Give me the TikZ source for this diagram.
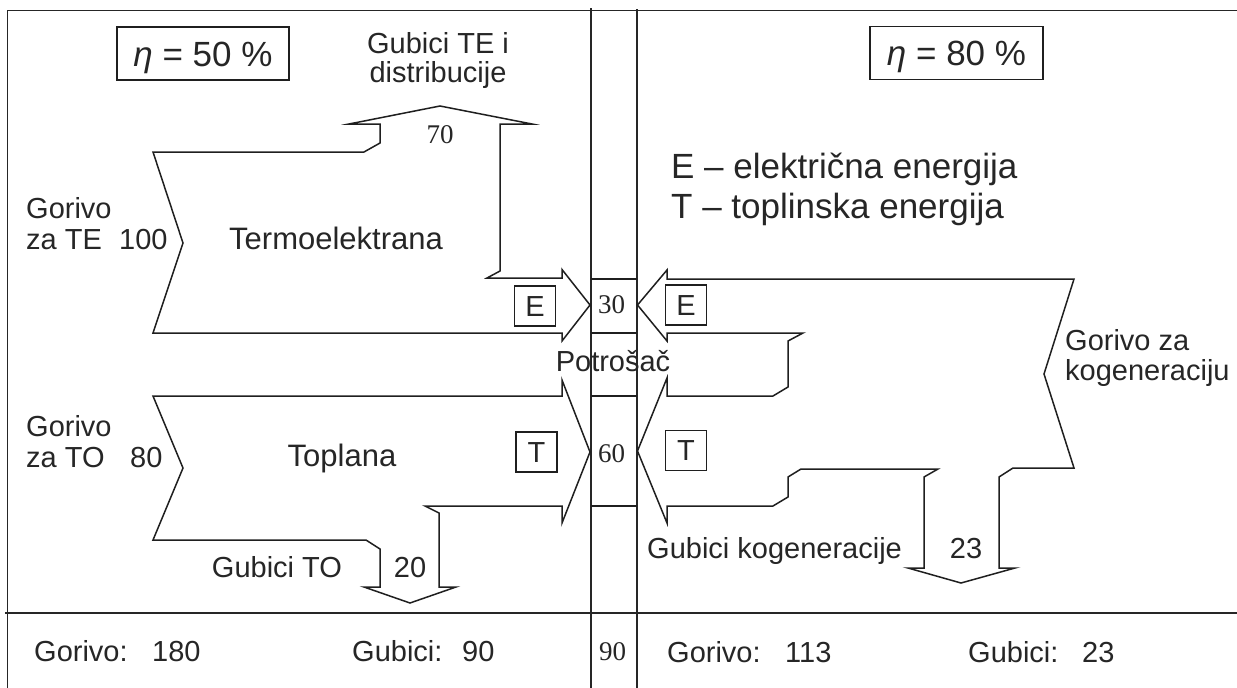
\documentclass[tikz,border=0pt]{standalone}
\usepackage{fontspec}
\setmainfont{Liberation Sans}
\newfontfamily\serifnum{Liberation Serif}
\begin{document}
\begin{tikzpicture}[x=1pt,y=-1pt,
  flow/.style={draw=black!88, line width=1.5pt, line join=miter, miter limit=20},
  frameline/.style={draw=black!85, line width=1.9pt},
  lbl/.style={inner sep=0pt, text=black!85, font=\fontsize{29}{33}\selectfont, text height=20.8pt, text depth=0pt},
  big/.style={inner sep=0pt, text=black!85, font=\fontsize{31}{35}\selectfont, text height=22.2pt, text depth=0pt},
  legend/.style={inner sep=0pt, text=black!85, font=\fontsize{35}{40}\selectfont, text height=25pt, text depth=0pt},
  etabox/.style={draw=black!88, line width=1.6pt, inner sep=0pt, text=black!85, font=\fontsize{35}{40}\selectfont, text height=25pt, text depth=0pt},
  num/.style={inner sep=0pt, text=black!85, font=\serifnum\fontsize{27}{30}\selectfont, text height=18.3pt, text depth=0pt},
  letterbox/.style={draw=black!88, line width=1.5pt, minimum width=41pt, minimum height=40pt, inner sep=0pt, text=black!85, font=\fontsize{29}{33}\selectfont, text height=20.8pt, text depth=0pt}
]
\useasboundingbox (0,0) rectangle (1237,688);
\fill[white] (0,0) rectangle (1237,688);

% frame
\draw[frameline] (7,10.5) -- (1237,10.5);
\draw[frameline] (7.5,10.5) -- (7.5,688);
\draw[frameline] (5,613) -- (1237,613);
\draw[frameline] (591,8) -- (591,688);
\draw[frameline] (637,9) -- (637,688);
% consumer cells
\draw[flow] (591,279) -- (637,279);
\draw[flow] (591,333) -- (637,333);
\draw[flow] (591,396) -- (637,396);
\draw[flow] (591,506) -- (637,506);

% Termoelektrana flow
\draw[flow] (153,152) -- (364,152) -- (380,143) -- (380,124) -- (349,124) -- (440,106)
  -- (532,124) -- (500,124) -- (500,271) -- (487,278) -- (562,278) -- (562,269.5)
  -- (590,305) -- (562,341) -- (562,333) -- (153,333) -- (183,243) -- cycle;

% Toplana flow
\draw[flow] (153,396) -- (562,396) -- (562,380) -- (590,452) -- (562,523) -- (562,506)
  -- (425,506) -- (439,513) -- (439,587) -- (456,587) -- (410,603) -- (364,587)
  -- (380,587) -- (380,549) -- (366,540) -- (153,540) -- (183,468) -- cycle;

% Kogeneracija flow
\draw[flow] (667,279) -- (1074,279) -- (1044,374) -- (1074,468) -- (1013,468) -- (999,477)
  -- (999,568) -- (1015,568) -- (961,583) -- (908,568) -- (924,568) -- (924,477)
  -- (938,469) -- (801,469) -- (788,477) -- (788,497) -- (773,506) -- (667,506)
  -- (667,523) -- (637.5,451) -- (667,378) -- (667,396) -- (773,396) -- (788,387)
  -- (788,341) -- (803,333) -- (667,333) -- (667,341) -- (637.5,305) -- (667,270) -- cycle;

% efficiency boxes
\node[etabox, minimum width=172pt, minimum height=53pt] (eta1) at (203,53.5) {{\itshape η} = 50 \%};
\node[etabox, minimum width=173pt, minimum height=53pt] (eta2) at (956.5,53) {{\itshape η} = 80 \%};

% left labels
\node[lbl] (gte1) at (438,43) {Gubici TE i};
\node[lbl] (gte2) at (438,72) {distribucije};
\node[num] (n70) at (440,134) {70};
\node[lbl, anchor=west] (gor1) at (26,208) {Gorivo};
\node[lbl, anchor=west] (zate) at (26,239) {za TE};
\node[lbl, anchor=west] (n100) at (119,239) {100};
\node[big] (te) at (336,238) {Termoelektrana};
\node[letterbox] (eL) at (535,306) {E};
\node[num] (n30) at (611.5,304) {30};
\node[lbl] (potr) at (613,361) {Potrošač};
\node[lbl, anchor=west] (gor2) at (26,426) {Gorivo};
\node[lbl, anchor=west] (zato) at (26,457) {za TO};
\node[lbl, anchor=west] (n80) at (130,457) {80};
\node[big] (to) at (342,455) {Toplana};
\node[letterbox] (tL) at (536.5,452) {T};
\node[num] (n60) at (611.5,453) {60};
\node[lbl] (gto) at (277,567) {Gubici TO};
\node[lbl] (n20) at (410,567) {20};

% right labels
\node[legend, anchor=west] (leg1) at (671,166) {E – električna energija};
\node[legend, anchor=west] (leg2) at (671,206) {T – toplinska energija};
\node[letterbox] (eR) at (686,305) {E};
\node[letterbox] (tR) at (686,450.5) {T};
\node[lbl, anchor=west] (gk1) at (1065,340) {Gorivo za};
\node[lbl, anchor=west] (gk2) at (1065,370) {kogeneraciju};
\node[lbl, anchor=west] (gkog) at (647,548) {Gubici kogeneracije};
\node[lbl] (n23) at (966,548) {23};

% bottom totals
\node[lbl, anchor=west] (b1) at (34,651) {Gorivo:};
\node[lbl, anchor=west] (b2) at (152,651) {180};
\node[lbl, anchor=west] (b3) at (352,651) {Gubici:};
\node[lbl, anchor=west] (b4) at (462,651) {90};
\node[num] (b5) at (612.5,651) {90};
\node[lbl, anchor=west] (b6) at (667,652) {Gorivo:};
\node[lbl, anchor=west] (b7) at (785,652) {113};
\node[lbl, anchor=west] (b8) at (968,652) {Gubici:};
\node[lbl, anchor=west] (b9) at (1082,652) {23};
\end{tikzpicture}
\end{document}
